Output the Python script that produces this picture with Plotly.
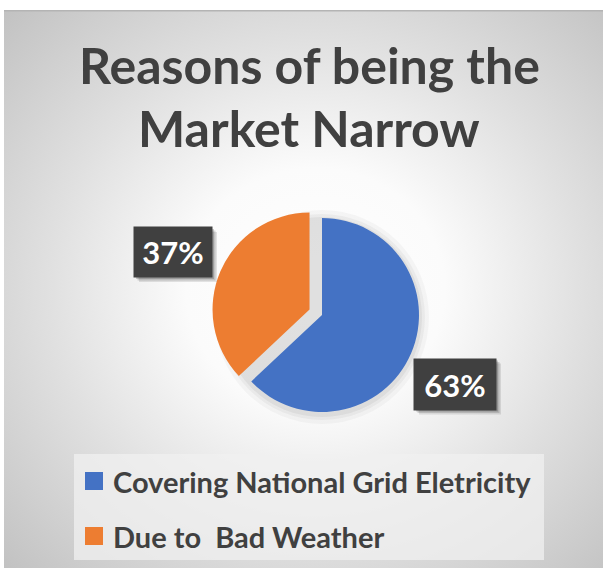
import base64
import plotly.graph_objects as go

# Chart data
categories = ["Covering National Grid Eletricity", "Due to  Bad Weather"]
shares = [63, 37]
colors = ["#4472C4", "#ED7D31"]
title_lines = ["Reasons of being the", "Market Narrow"]

W, H = 603, 568
FONT = "Lato"
TEXT_DARK = "#404040"


def px(x):
    return x / W


def py(y):
    return 1 - y / H


# Radial gradient backdrop for the chart area
svg = f"""<svg xmlns='http://www.w3.org/2000/svg' width='{W-4}' height='{H-10}' viewBox='0 0 {W-4} {H-10}' preserveAspectRatio='none'>
<defs><radialGradient id='g' cx='0.52' cy='0.50' r='0.72' fx='0.52' fy='0.50'>
<stop offset='0' stop-color='#ffffff'/>
<stop offset='0.30' stop-color='#fbfbfb'/>
<stop offset='0.62' stop-color='#e0e0e0'/>
<stop offset='1' stop-color='#c2c2c2'/>
</radialGradient></defs>
<rect width='100%' height='100%' fill='url(#g)'/>
<rect x='0' y='0' width='100%' height='1.5' fill='#b4b4b4'/>
</svg>"""
bg_uri = "data:image/svg+xml;base64," + base64.b64encode(svg.encode()).decode()

# Pie geometry (pixel centre and radius of the unpulled slices)
cx, cy, r, pull = 322, 315, 97, 0.14
half = r * (1 + pull)

fig = go.Figure()
fig.add_trace(go.Pie(
    labels=categories,
    values=shares,
    marker=dict(colors=colors, line=dict(width=0)),
    sort=False,
    direction="clockwise",
    rotation=0,
    pull=[0, pull],
    textinfo="none",
    hoverinfo="label+percent",
    showlegend=False,
    domain=dict(x=[px(cx - half), px(cx + half)], y=[py(cy + half), py(cy - half)]),
))

shapes = []
annotations = []

# Soft halo under the pie
for grow, alpha in [(10, 0.03), (6, 0.04), (3, 0.05)]:
    shapes.append(dict(
        type="circle", xref="paper", yref="paper", layer="below",
        x0=px(cx - r - grow), x1=px(cx + r + grow),
        y0=py(cy + r + grow + 2), y1=py(cy - r - grow + 2),
        fillcolor=f"rgba(0,0,0,{alpha})", line=dict(width=0),
    ))

# Title, two centred lines
for line, center_y in zip(title_lines, [65, 128]):
    annotations.append(dict(
        text=f"<b>{line}</b>", x=px(309), y=py(center_y), xref="paper", yref="paper",
        xanchor="center", yanchor="middle", showarrow=False,
        font=dict(family=FONT, size=50, color=TEXT_DARK),
    ))

# Value labels in dark boxes with a soft drop shadow
label_boxes = {categories[0]: (455, 384, 82, 51), categories[1]: (173, 252, 78, 50)}
for name, value in zip(categories, shares):
    bx, by, bw, bh = label_boxes[name]
    for off, alpha in [(5, 0.10), (3.5, 0.14), (2, 0.18)]:
        shapes.append(dict(
            type="rect", xref="paper", yref="paper", layer="above",
            x0=px(bx - bw / 2 + off), x1=px(bx + bw / 2 + off),
            y0=py(by + bh / 2 + off), y1=py(by - bh / 2 + off),
            fillcolor=f"rgba(0,0,0,{alpha})", line=dict(width=0),
        ))
    annotations.append(dict(
        text=f"<b>{value}%</b>", x=px(bx), y=py(by), xref="paper", yref="paper",
        xanchor="center", yanchor="middle", showarrow=False,
        width=bw, height=bh, borderpad=0, bgcolor="#404040",
        font=dict(family=FONT, size=31, color="#ffffff"),
    ))

# Legend panel
shapes.append(dict(
    type="rect", xref="paper", yref="paper", layer="below",
    x0=px(74), x1=px(544), y0=py(560), y1=py(454),
    fillcolor="rgba(240,240,240,0.75)", line=dict(width=0),
))
for i, (name, col) in enumerate(zip(categories, colors)):
    yc = 481 + i * 55
    shapes.append(dict(
        type="rect", xref="paper", yref="paper", layer="above",
        x0=px(85), x1=px(103), y0=py(yc + 9), y1=py(yc - 9),
        fillcolor=col, line=dict(width=0),
    ))
    annotations.append(dict(
        text=f"<b>{name}</b>", x=px(111), y=py(yc), xref="paper", yref="paper",
        xanchor="left", yanchor="middle", showarrow=False,
        font=dict(family=FONT, size=29, color=TEXT_DARK),
    ))

fig.update_layout(
    width=W, height=H,
    margin=dict(l=0, r=0, t=0, b=0),
    paper_bgcolor="#ffffff",
    plot_bgcolor="rgba(0,0,0,0)",
    showlegend=False,
    images=[dict(
        source=bg_uri, xref="paper", yref="paper",
        x=px(4), y=py(10), sizex=1 - px(4), sizey=1 - 10 / H,
        xanchor="left", yanchor="top", sizing="stretch", layer="below",
    )],
    shapes=shapes,
    annotations=annotations,
)

fig.write_html("out.html")
